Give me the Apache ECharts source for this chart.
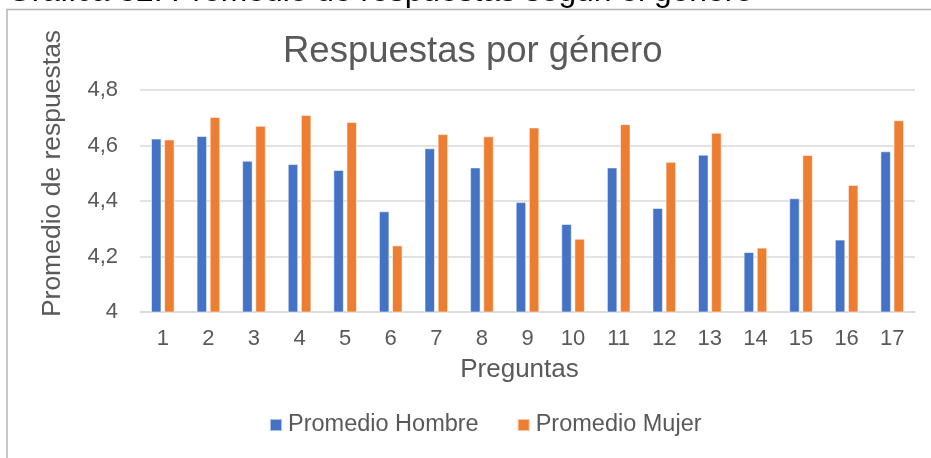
<!DOCTYPE html>
<html>
<head>
<meta charset="utf-8">
<script src="https://cdn.jsdelivr.net/npm/echarts@6/dist/echarts.min.js"></script>
<style>
html,body{margin:0;padding:0;background:#fff;}
#chart{width:931px;height:458px;}
</style>
</head>
<body>
<div id="chart"></div>
<script>
var preguntas = ['1','2','3','4','5','6','7','8','9','10','11','12','13','14','15','16','17'];
var promedioHombre = [4.625, 4.634, 4.545, 4.533, 4.512, 4.363, 4.590, 4.521, 4.396, 4.317, 4.521, 4.375, 4.567, 4.216, 4.410, 4.261, 4.579];
var promedioMujer = [4.622, 4.703, 4.671, 4.710, 4.685, 4.240, 4.641, 4.633, 4.665, 4.264, 4.677, 4.541, 4.646, 4.232, 4.566, 4.458, 4.691];
var seriesNames = ['Promedio Hombre', 'Promedio Mujer'];
var chartTitle = 'Respuestas por género';
var pageCaption = 'Gráfica 32: Promedio de respuestas según el género';
var xName = 'Preguntas';
var yName = 'Promedio de respuestas';

var FONT = '"Liberation Sans", Arial, sans-serif';
var chart = echarts.init(document.getElementById('chart'), null, {renderer: 'canvas'});
chart.setOption({
  animation: false,
  backgroundColor: '#ffffff',
  textStyle: {fontFamily: FONT},
  title: {
    text: chartTitle,
    left: 283,
    top: 33,
    padding: 0,
    textStyle: {fontSize: 36.5, fontWeight: 'normal', color: '#595959', fontFamily: FONT}
  },
  graphic: [
    {
      type: 'rect', silent: true, z: 0,
      shape: {x: 7, y: 9.5, width: 960, height: 470},
      style: {fill: 'none', stroke: '#b4b4b4', lineWidth: 1.5}
    },
    {
      type: 'text', silent: true, z: 10,
      x: 7, y: 8,
      style: {text: pageCaption, font: '31.8px ' + FONT, fill: '#000000', verticalAlign: 'bottom', lineHeight: 31.8}
    }
  ],
  legend: {
    data: seriesNames,
    left: 269,
    top: 413,
    padding: 0,
    itemWidth: 12,
    itemHeight: 12,
    itemGap: 38,
    icon: 'rect',
    textStyle: {fontSize: 23.5, color: '#595959', fontFamily: FONT, padding: [0, 0, 0, 1]}
  },
  grid: {left: 140, right: 16, top: 90, bottom: 146, containLabel: false},
  xAxis: {
    type: 'category',
    data: preguntas,
    name: xName,
    nameLocation: 'middle',
    nameGap: 45,
    nameTextStyle: {fontSize: 26, color: '#595959', fontFamily: FONT, padding: [0, 16, 0, 0]},
    axisTick: {show: false},
    axisLine: {lineStyle: {color: '#d9d9d9', width: 1.5}},
    axisLabel: {fontSize: 22, color: '#595959', margin: 16, fontFamily: FONT}
  },
  yAxis: {
    type: 'value',
    min: 4,
    max: 4.8,
    interval: 0.2,
    name: yName,
    nameLocation: 'middle',
    nameRotate: 90,
    nameGap: 74,
    nameTextStyle: {fontSize: 26.5, color: '#595959', fontFamily: FONT, padding: [0, 0, 0, 55]},
    axisLine: {show: false},
    axisTick: {show: false},
    splitLine: {lineStyle: {color: '#d9d9d9', width: 1.5}},
    axisLabel: {
      fontSize: 22, color: '#595959', margin: 22, fontFamily: FONT,
      formatter: function (v) { return String(Math.round(v * 10) / 10).replace('.', ','); }
    }
  },
  series: [
    {
      name: seriesNames[0], type: 'bar', data: promedioHombre,
      barWidth: 10.5, barGap: '25%',
      itemStyle: {color: '#4472C4', borderColor: 'rgba(255,255,255,0.55)', borderWidth: 1}
    },
    {
      name: seriesNames[1], type: 'bar', data: promedioMujer,
      barWidth: 10.5, barGap: '25%',
      itemStyle: {color: '#ED7D31', borderColor: 'rgba(255,255,255,0.55)', borderWidth: 1}
    }
  ]
});
</script>
</body>
</html>
